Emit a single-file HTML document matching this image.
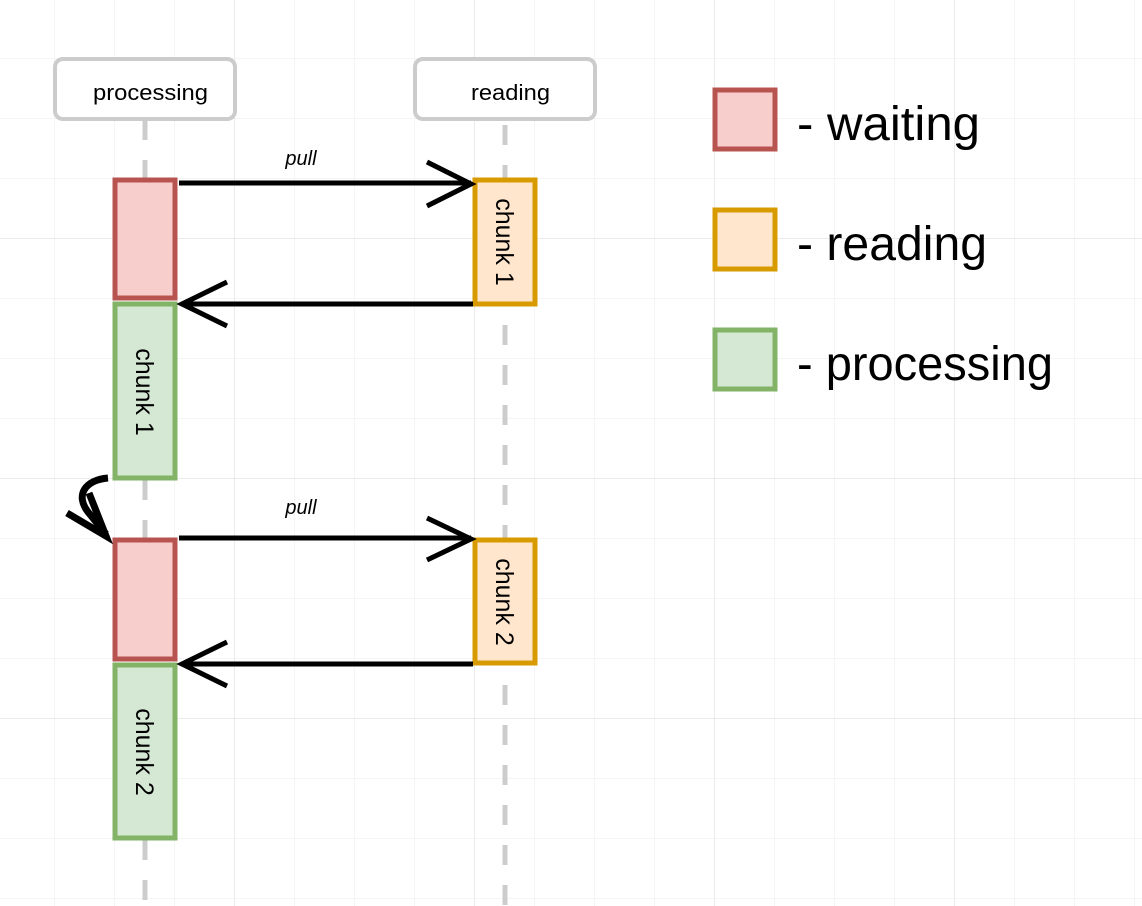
<!DOCTYPE html>
<html><head><meta charset="utf-8"><style>
body{margin:0;background:#fff}
svg{display:block}
</style></head><body>
<svg width="1142" height="906" viewBox="0 0 1142 906" xmlns="http://www.w3.org/2000/svg" font-family="Liberation Sans, sans-serif">
<defs>
<pattern id="g" x="54" y="58" width="60" height="60" patternUnits="userSpaceOnUse">
<path d="M0 0H60M0 0V60" stroke="#f2f2f2" stroke-width="1.5" fill="none"/>
</pattern>
<pattern id="G" x="234" y="238" width="240" height="240" patternUnits="userSpaceOnUse">
<path d="M0 0H240M0 0V240" stroke="#e2e2e2" stroke-width="1.2" fill="none"/>
</pattern>
</defs>
<rect width="1142" height="906" fill="url(#g)"/>
<rect width="1142" height="906" fill="url(#G)"/>

<!-- lifelines -->
<line x1="145" y1="120" x2="145" y2="906" stroke="#cccccc" stroke-width="5" stroke-dasharray="20,20"/>
<line x1="505" y1="125" x2="505" y2="906" stroke="#cccccc" stroke-width="5" stroke-dasharray="20,20"/>

<!-- headers -->
<rect x="55" y="59" width="180" height="60" rx="8" fill="#fff" stroke="#cccccc" stroke-width="4"/>
<text x="93" y="100" font-size="22" textLength="115" lengthAdjust="spacingAndGlyphs">processing</text>
<rect x="415" y="59" width="180" height="60" rx="8" fill="#fff" stroke="#cccccc" stroke-width="4"/>
<text x="471" y="100" font-size="22" textLength="79" lengthAdjust="spacingAndGlyphs">reading</text>

<!-- boxes -->
<rect x="115" y="180" width="60" height="118" fill="#f8cecc" stroke="#b85450" stroke-width="5"/>
<rect x="115" y="304" width="60" height="174" fill="#d5e8d4" stroke="#82b366" stroke-width="5"/>
<rect x="475" y="180" width="60" height="124" fill="#ffe6cc" stroke="#d79b00" stroke-width="5"/>
<rect x="115" y="540" width="60" height="119" fill="#f8cecc" stroke="#b85450" stroke-width="5"/>
<rect x="115" y="665" width="60" height="173" fill="#d5e8d4" stroke="#82b366" stroke-width="5"/>
<rect x="475" y="540" width="60" height="123" fill="#ffe6cc" stroke="#d79b00" stroke-width="5"/>

<g font-size="25" text-anchor="middle">
<text transform="translate(496,242) rotate(90)">chunk 1</text>
<text transform="translate(136,392) rotate(90)">chunk 1</text>
<text transform="translate(496,602) rotate(90)">chunk 2</text>
<text transform="translate(136,752) rotate(90)">chunk 2</text>
</g>

<!-- arrows -->
<g stroke="#000" stroke-width="5" fill="none">
<path d="M179 183H471"/><path d="M427 162L471 184L427 206"/>
<path d="M473 304H181"/><path d="M227 282L182 304L227 326"/>
<path d="M179 538H471"/><path d="M427 518L471 539L427 560"/>
<path d="M473 664H181"/><path d="M227 642L182 664L227 686"/>
<path d="M108 478C85 480 75 495 88 512L106 534" stroke-width="7"/>
<path d="M67 513L106 536L89 493" stroke-width="7"/>
</g>
<g font-size="20" font-style="italic" text-anchor="middle">
<text x="301" y="165">pull</text>
<text x="301" y="514">pull</text>
</g>

<!-- legend -->
<rect x="715" y="90" width="60" height="59" fill="#f8cecc" stroke="#b85450" stroke-width="5"/>
<rect x="715" y="210" width="60" height="59" fill="#ffe6cc" stroke="#d79b00" stroke-width="5"/>
<rect x="715" y="330" width="60" height="59" fill="#d5e8d4" stroke="#82b366" stroke-width="5"/>
<g font-size="48">
<text x="797" y="140" textLength="183" lengthAdjust="spacingAndGlyphs">- waiting</text>
<text x="797" y="260" textLength="190" lengthAdjust="spacingAndGlyphs">- reading</text>
<text x="797" y="380" textLength="256" lengthAdjust="spacingAndGlyphs">- processing</text>
</g>
</svg>
</body></html>
